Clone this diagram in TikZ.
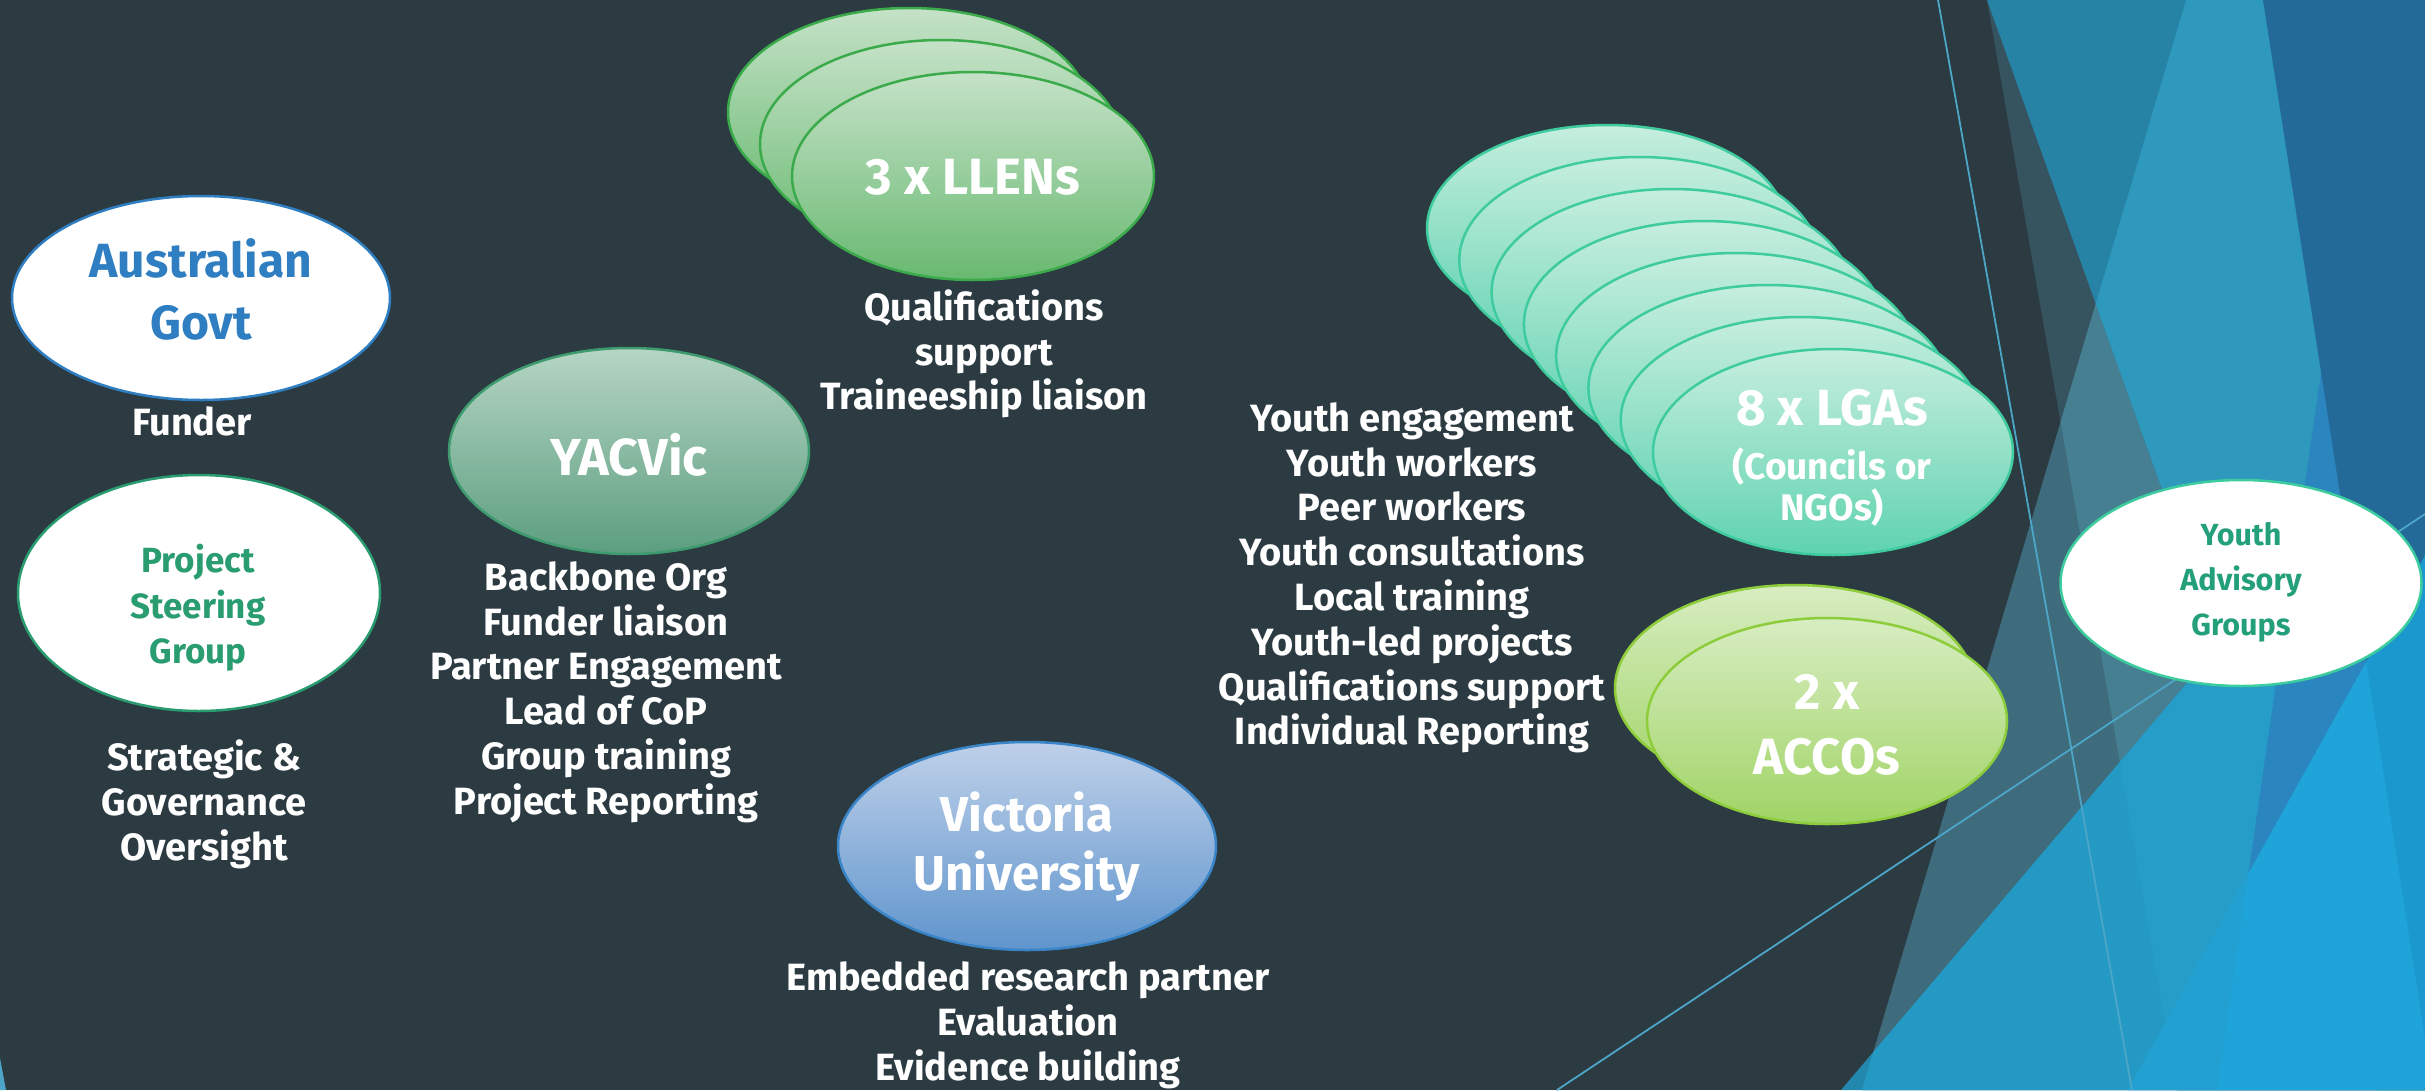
\documentclass[tikz,border=0pt]{standalone}
\usepackage{fontspec}
\setmainfont{Fira Sans}
\usetikzlibrary{shapes.geometric}
\definecolor{bgc}{HTML}{2C3A42}
\definecolor{cS}{HTML}{36545F}
\definecolor{cP}{HTML}{3E6C7D}
\definecolor{cSP}{HTML}{467F92}
\definecolor{cQ}{HTML}{2683A5}
\definecolor{cQP}{HTML}{2E98BD}
\definecolor{cRw}{HTML}{2288AE}
\definecolor{cR}{HTML}{2499C4}
\definecolor{cRS}{HTML}{269DC8}
\definecolor{cV}{HTML}{2B86C0}
\definecolor{cB}{HTML}{236A99}
\definecolor{cLs}{HTML}{1FA4DA}
\definecolor{cLa}{HTML}{1B98CE}
\definecolor{cLb}{HTML}{22A0D2}
\definecolor{thinc}{HTML}{4DA6C8}
\definecolor{ausblue}{HTML}{2E7EC1}
\definecolor{psggreen}{HTML}{2A9D70}
\definecolor{yactop}{HTML}{B6D5C4}
\definecolor{yacbot}{HTML}{5C9E80}
\definecolor{yacbd}{HTML}{3E9B6E}
\definecolor{lltop}{HTML}{C5E2C8}
\definecolor{llbot}{HTML}{68B970}
\definecolor{llbd}{HTML}{3BAA4A}
\definecolor{lgtop}{HTML}{C7EEDF}
\definecolor{lgbot}{HTML}{5ED3AF}
\definecolor{lgbd}{HTML}{3ECB9E}
\definecolor{actop}{HTML}{D8EDC2}
\definecolor{acbot}{HTML}{A0D465}
\definecolor{acbd}{HTML}{8DCC3B}
\definecolor{vutop}{HTML}{BFD0E9}
\definecolor{vubot}{HTML}{5F95CD}
\definecolor{vubd}{HTML}{3A85C8}
\definecolor{yagbd}{HTML}{3DCC9E}
\definecolor{yagtxt}{HTML}{23A07A}
\tikzset{
  oval/.style={ellipse, inner sep=0pt, line width=2.5pt},
  ttl/.style={font=\fontsize{51}{65}\selectfont\bfseries, text=white, align=center},
  body/.style={font=\fontsize{38}{44.8}\selectfont\bfseries, text=white, align=center},
  gtxt/.style={font=\fontsize{35}{45.5}\selectfont\bfseries, align=center},
  yacstyle/.style={oval, draw=yacbd, top color=yactop, bottom color=yacbot, minimum width=360pt, minimum height=206pt},
  llstyle/.style={oval, draw=llbd, top color=lltop, bottom color=llbot, minimum width=362pt, minimum height=208pt},
  lgstyle/.style={oval, draw=lgbd, top color=lgtop, bottom color=lgbot, minimum width=360pt, minimum height=206pt},
  acstyle/.style={oval, draw=acbd, top color=actop, bottom color=acbot, minimum width=360pt, minimum height=206pt},
  vustyle/.style={oval, draw=vubd, top color=vutop, bottom color=vubot, minimum width=378pt, minimum height=208pt},
  thinl/.style={draw=thinc, line width=1.8pt}
}
\begin{document}
\begin{tikzpicture}[x=1pt,y=-1pt]
\useasboundingbox (0,0) rectangle (2425,1090);
% background
\fill[bgc] (0,0) rectangle (2425,1090);
\fill[cS] (1987,0) -- (2177,1090) -- (2500,1090) -- (2500,0) -- cycle;
\fill[cP] (2186,0) -- (1862,1090) -- (2500,1090) -- (2500,0) -- cycle;
\begin{scope}
\clip (2186,0) -- (1862,1090) -- (2500,1090) -- (2500,0) -- cycle;
\fill[cSP] (1987,0) -- (2177,1090) -- (2500,1090) -- (2500,0) -- cycle;
\end{scope}
\fill[cQ] (1987,0) -- (2377,1090) -- (2500,1090) -- (2500,0) -- cycle;
\begin{scope}
\clip (1987,0) -- (2377,1090) -- (2500,1090) -- (2500,0) -- cycle;
\fill[cQP] (2186,0) -- (1862,1090) -- (2500,1090) -- (2500,0) -- cycle;
\end{scope}
\fill[cRw] (2500,315) -- (1841,1090) -- (2500,1090) -- cycle;
\begin{scope}
\clip (2500,315) -- (1841,1090) -- (2500,1090) -- cycle;
\fill[cR] (2186,0) -- (1862,1090) -- (2500,1090) -- (2500,0) -- cycle;
\fill[cRS] (1987,0) -- (2177,1090) -- (2500,1090) -- (2500,0) -- cycle;
\end{scope}
\fill[cV] (2375,0) -- (2217,1090) -- (2500,1090) -- (2500,0) -- cycle;
\fill[cB] (2263,0) -- (2433,1090) -- (2500,1090) -- (2500,0) -- cycle;
\fill[cLs] (2500,421) -- (2128,1090) -- (2500,1090) -- cycle;
\begin{scope}
\clip (2500,421) -- (2128,1090) -- (2500,1090) -- cycle;
\fill[cLa] (2263,0) -- (2433,1090) -- (2500,1090) -- (2500,0) -- cycle;
\fill[cLb] (2375,0) -- (2217,1090) -- (1500,1090) -- (1500,0) -- cycle;
\end{scope}
\fill[thinc] (0,1058) -- (6,1090) -- (0,1090) -- cycle;
\draw[thinl] (1938,0) -- (2132,1090);
\draw[thinl] (1557,1090) -- (2425,514);

% Australian Govt
\node[oval, draw=ausblue, fill=white, minimum width=378pt, minimum height=204pt] (aus) at (201,298) {};
\node[text=ausblue, align=center, font=\fontsize{48}{62}\selectfont\bfseries] (aust) at (201,289) {Australian\\Govt};
\node[body] (funder) at (192,421) {Funder};
% Project Steering Group
\node[oval, draw=psggreen, fill=white, minimum width=362pt, minimum height=236pt] (psg) at (199,593) {};
\node[gtxt, text=psggreen] (psgt) at (198,608) {Project\\Steering\\Group};
\node[body] (psgtxt) at (204,804) {Strategic \&\\Governance\\Oversight};
% YACVic
\node[yacstyle] (yac) at (629,451) {};
\node[ttl, font=\fontsize{52}{65}\selectfont\bfseries] (yact) at (629,455) {YACVic};
\node[body] (yactxt) at (606,692) {Backbone Org\\Funder liaison\\Partner Engagement\\Lead of CoP\\Group training\\Project Reporting};
% LLENs
\node[llstyle] (llA) at (909,112) {};
\node[llstyle] (llB) at (941,144) {};
\node[llstyle] (llC) at (973,176) {};
\node[ttl] (llt) at (973,177) {3 x LLENs};
\node[body] (lltxt) at (984,354) {Qualifications\\support\\Traineeship liaison};
% LGAs
\node[lgstyle] (lg1) at (1607,228) {};
\node[lgstyle] (lg2) at (1639.3,260) {};
\node[lgstyle] (lg3) at (1671.6,292) {};
\node[lgstyle] (lg4) at (1703.9,324) {};
\node[lgstyle] (lg5) at (1736.1,356) {};
\node[lgstyle] (lg6) at (1768.4,388) {};
\node[lgstyle] (lg7) at (1800.7,420) {};
\node[lgstyle] (lg8) at (1833,452) {};
\node[ttl] (lgt) at (1832,458) {8 x LGAs\\[-11pt]{\fontsize{37}{41}\selectfont (Councils or}\\[-24pt]{\fontsize{37}{41}\selectfont NGOs)}};
\node[body] (lgtxt) at (1412,578) {Youth engagement\\Youth workers\\Peer workers\\Youth consultations\\Local training\\Youth-led projects\\Qualifications support\\Individual Reporting};
% ACCOs
\node[acstyle] (ac1) at (1795,688) {};
\node[acstyle] (ac2) at (1827,721) {};
\node[ttl] (act) at (1827,725) {2 x\\ACCOs};
% Victoria University
\node[vustyle] (vu) at (1027,846) {};
\node[ttl, font=\fontsize{49}{59}\selectfont\bfseries] (vut) at (1027,847) {Victoria\\University};
\node[body] (vutxt) at (1028,1025) {Embedded research partner\\Evaluation\\Evidence building};
% Youth Advisory Groups
\node[oval, draw=yagbd, fill=white, minimum width=361pt, minimum height=206pt] (yag) at (2241,583) {};
\node[text=yagtxt, align=center, font=\fontsize{30.5}{45}\selectfont\bfseries] (yagt) at (2241,582) {Youth\\Advisory\\Groups};
\end{tikzpicture}
\end{document}
